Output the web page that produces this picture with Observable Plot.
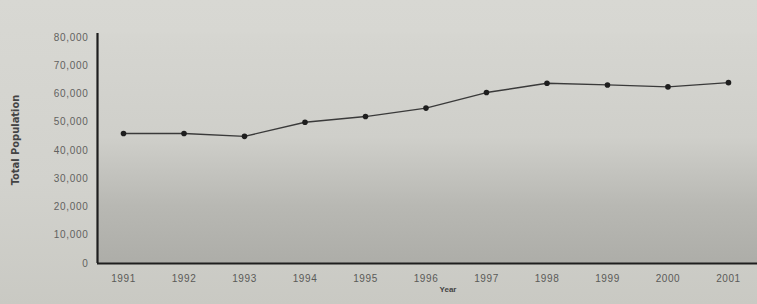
<!DOCTYPE html>
<html>
<head>
<meta charset="utf-8">
<script src="https://cdn.jsdelivr.net/npm/d3@7"></script>
<script src="https://cdn.jsdelivr.net/npm/@observablehq/plot@0.6"></script>
<style>
  html, body { margin: 0; padding: 0; }
  body { width: 757px; height: 304px; overflow: hidden;
         background: linear-gradient(180deg, #d8d8d3 0%, #d2d2cd 60%, #c9c9c3 100%); }
  #chart svg { display: block; background: transparent; }
  .ytl text { letter-spacing: 0.7px; }
  .xtl text { letter-spacing: 0.6px; }
</style>
</head>
<body>
<div id="chart"></div>
<script>
// ---- data ----
const years = [1991, 1992, 1993, 1994, 1995, 1996, 1997, 1998, 1999, 2000, 2001];
const population = [46000, 46000, 45000, 50000, 52000, 55000, 60500, 63800, 63200, 62500, 64000];
const yTicks = [0, 10000, 20000, 30000, 40000, 50000, 60000, 70000, 80000];
const xTicks = [1991, 1992, 1993, 1994, 1995, 1996, 1997, 1998, 1999, 2000, 2001];
const xDomain = [1990.57, 2001.48];
const yDomain = [0, 81400];
const yLabel = "Total Population";
const xLabel = "Year";

const data = years.map((y, i) => ({year: y, value: population[i]}));
const fmt = d3.format(",");

const plot = Plot.plot({
  width: 757,
  height: 304,
  marginLeft: 97,
  marginRight: 0,
  marginTop: 33,
  marginBottom: 41,
  style: {fontFamily: "Liberation Sans, sans-serif", color: "#555", background: "transparent"},
  x: {domain: xDomain, label: null, axis: null},
  y: {domain: yDomain, label: null, axis: null},
  marks: [
    Plot.frame({fill: "url(#plotbg)", stroke: "none"}),
    Plot.axisY(yTicks, {
      tickSize: 0, tickPadding: 9, tickFormat: fmt, className: "ytl",
      fontSize: 10, fill: "#626260", label: null
    }),
    Plot.axisX(xTicks, {
      tickSize: 0, tickPadding: 11, tickFormat: d => String(d), className: "xtl",
      fontSize: 10, fill: "#5a5a58", label: null
    }),
    Plot.ruleY([0], {stroke: "#1e1e1e", strokeWidth: 2.2}),
    Plot.ruleX([xDomain[0]], {stroke: "#1e1e1e", strokeWidth: 2.2}),
    Plot.line(data, {x: "year", y: "value", stroke: "#3a3a3a", strokeWidth: 1.4}),
    Plot.dot(data, {x: "year", y: "value", r: 2.8, fill: "#1e1e1e", stroke: "none"})
  ]
});

// gradient for the plot area background
const ns = "http://www.w3.org/2000/svg";
const defs = document.createElementNS(ns, "defs");
defs.innerHTML = `<linearGradient id="plotbg" x1="0" y1="0" x2="0" y2="1">
  <stop offset="0%" stop-color="#d6d6d1"/>
  <stop offset="45%" stop-color="#cfcfca"/>
  <stop offset="75%" stop-color="#b8b8b3"/>
  <stop offset="100%" stop-color="#adada8"/>
</linearGradient>`;
plot.insertBefore(defs, plot.firstChild);

// axis titles as real text
const yt = document.createElementNS(ns, "text");
yt.setAttribute("transform", "translate(19,140) rotate(-90)");
yt.setAttribute("text-anchor", "middle");
yt.setAttribute("font-family", "Liberation Sans Narrow, DejaVu Sans Condensed, sans-serif");
yt.setAttribute("font-stretch", "condensed");
yt.setAttribute("font-weight", "bold");
yt.setAttribute("font-size", "11");
yt.setAttribute("fill", "#444");
yt.textContent = yLabel;
plot.appendChild(yt);

const xt = document.createElementNS(ns, "text");
xt.setAttribute("x", 448);
xt.setAttribute("y", 292);
xt.setAttribute("font-family", "Liberation Sans, sans-serif");
xt.setAttribute("font-weight", "bold");
xt.setAttribute("font-size", "8");
xt.setAttribute("fill", "#444");
xt.textContent = xLabel;
plot.appendChild(xt);

document.getElementById("chart").appendChild(plot);
</script>
</body>
</html>
